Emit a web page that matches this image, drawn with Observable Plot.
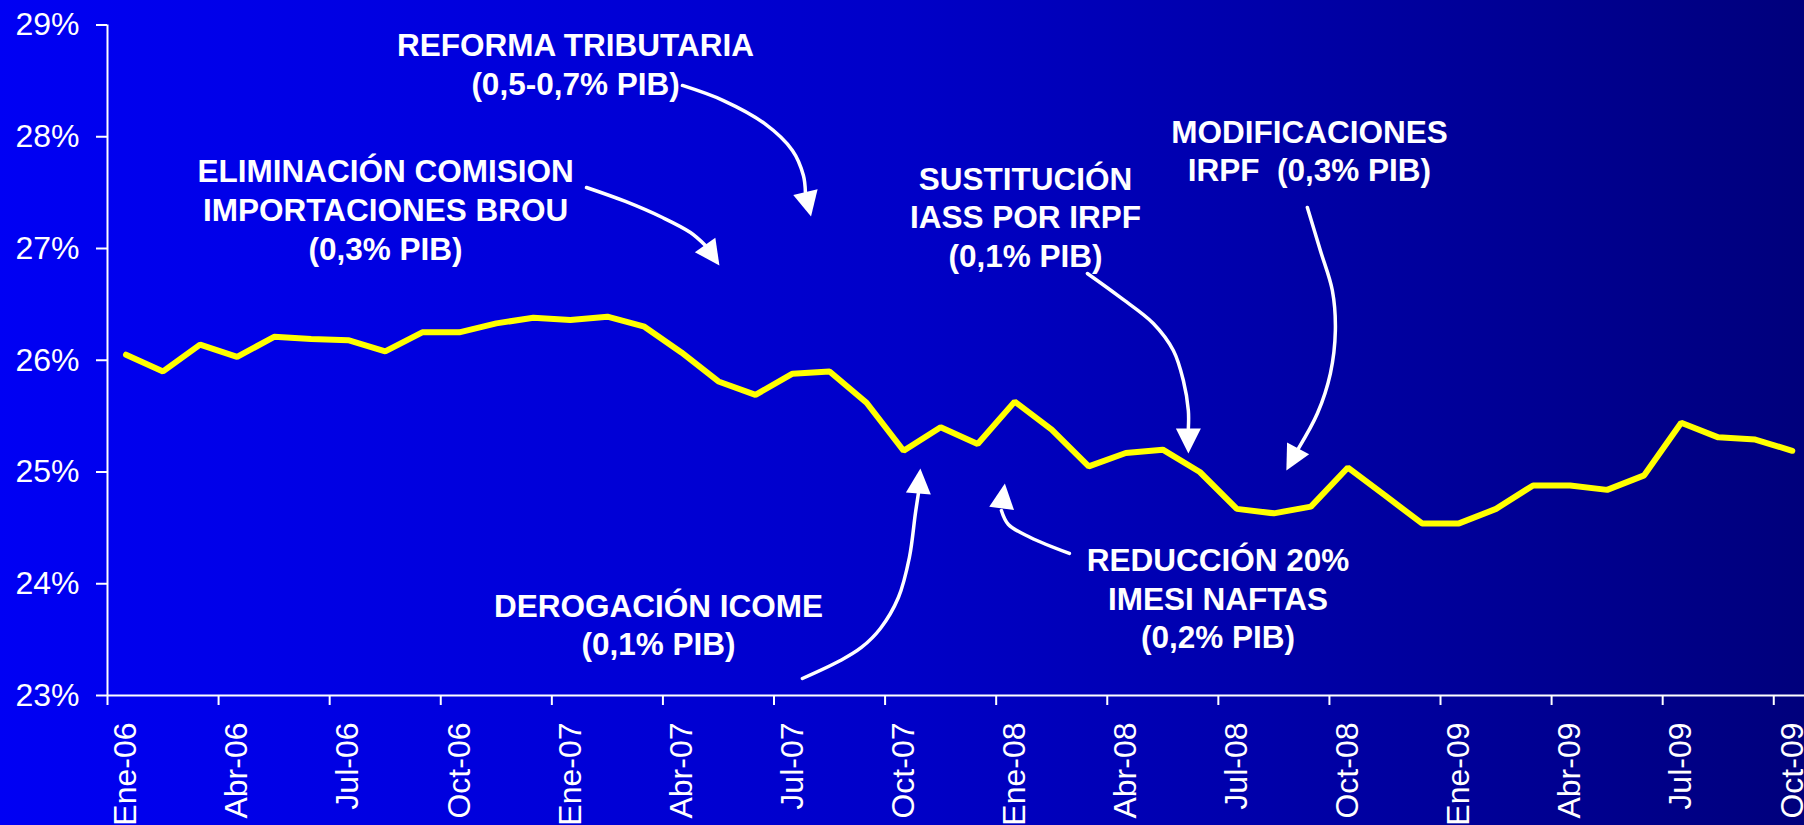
<!DOCTYPE html>
<html>
<head>
<meta charset="utf-8">
<script src="https://cdn.jsdelivr.net/npm/d3@7"></script>
<script src="https://cdn.jsdelivr.net/npm/@observablehq/plot@0.6"></script>
<style>
html, body { margin: 0; padding: 0; overflow: hidden; background: #000080; }
#chart svg text { white-space: pre; }
</style>
</head>
<body>
<div id="chart"></div>
<script>
// Months (categories)
const months = [
  "Ene-06","Feb-06","Mar-06","Abr-06","May-06","Jun-06","Jul-06","Ago-06","Sep-06","Oct-06","Nov-06","Dic-06",
  "Ene-07","Feb-07","Mar-07","Abr-07","May-07","Jun-07","Jul-07","Ago-07","Sep-07","Oct-07","Nov-07","Dic-07",
  "Ene-08","Feb-08","Mar-08","Abr-08","May-08","Jun-08","Jul-08","Ago-08","Sep-08","Oct-08","Nov-08","Dic-08",
  "Ene-09","Feb-09","Mar-09","Abr-09","May-09","Jun-09","Jul-09","Ago-09","Sep-09","Oct-09"
];
// Series values (% PIB)
const values = [
  26.05, 25.90, 26.14, 26.03, 26.21, 26.19, 26.18, 26.08, 26.25, 26.25, 26.33, 26.38,
  26.36, 26.39, 26.30, 26.07, 25.81, 25.69, 25.88, 25.90, 25.62, 25.19, 25.40, 25.25,
  25.63, 25.38, 25.05, 25.17, 25.20, 25.00, 24.67, 24.63, 24.69, 25.04, 24.79, 24.54,
  24.54, 24.67, 24.88, 24.88, 24.84, 24.97, 25.44, 25.31, 25.29, 25.19
];
// Y tick values
const yTicks = [23, 24, 25, 26, 27, 28, 29];
// X tick labels (every quarter)
const xTickIdx = months.map((m, i) => i).filter(i => i % 3 === 0);

// Annotations (month index, % value of last text baseline)
const notes = [
  {text: "REFORMA TRIBUTARIA\n(0,5-0,7% PIB)", x: 12.64, y: 28.375},
  {text: "ELIMINACIÓN COMISION\nIMPORTACIONES BROU\n(0,3% PIB)", x: 7.51, y: 26.90},
  {text: "SUSTITUCIÓN\nIASS POR IRPF\n(0,1% PIB)", x: 24.79, y: 26.833},
  {text: "MODIFICACIONES\nIRPF  (0,3% PIB)", x: 32.46, y: 27.60},
  {text: "DEROGACIÓN ICOME\n(0,1% PIB)", x: 14.88, y: 23.358},
  {text: "REDUCCIÓN 20%\nIMESI NAFTAS\n(0,2% PIB)", x: 29.99, y: 23.421}
];

// Arrow shafts (month index, %) and heads
const arrowShafts = [
  {id: "A", pts: [[12.935,27.546],[13.988,27.421],[14.987,27.277],[15.743,27.143],[16.148,27.027]]},
  {id: "B", pts: [[15.527,28.459],[16.634,28.324],[17.741,28.119],[18.497,27.877],[18.794,27.653],[18.848,27.501]]},
  {id: "C", pts: [[26.463,26.776],[27.354,26.562],[28.245,26.329],[28.785,26.087],[29.055,25.819],[29.190,25.550],[29.190,25.389]]},
  {id: "D", pts: [[32.404,27.367],[32.755,26.982],[33.079,26.624],[33.160,26.266],[33.025,25.881],[32.674,25.523],[32.161,25.210]]},
  {id: "E", pts: [[18.767,23.152],[19.793,23.313],[20.360,23.430],[20.873,23.600],[21.359,23.877],[21.656,24.235],[21.818,24.629],[21.899,24.808]]},
  {id: "F", pts: [[25.977,24.271],[24.924,24.414],[24.330,24.530],[24.141,24.655]]}
];
const arrowHeads = [
  {x: 16.526, y: 26.848, angle: 145},
  {x: 19.000, y: 27.286, angle: 167},
  {x: 29.190, y: 25.166, angle: 180},
  {x: 31.837, y: 25.013, angle: 208},
  {x: 21.953, y: 25.031, angle: 4.6},
  {x: 24.235, y: 24.897, angle: 7.5}
];

const series = values.map((v, i) => ({i, v}));
const shaftPts = arrowShafts.flatMap(a => a.pts.map(([x, y]) => ({id: a.id, x, y})));

const headSymbol = {
  draw(ctx) {
    ctx.moveTo(0, 0);
    ctx.lineTo(-12.5, 25);
    ctx.lineTo(12.5, 25);
    ctx.closePath();
  }
};

const chart = Plot.plot({
  width: 1804,
  height: 825,
  marginTop: 24.5,
  marginBottom: 130,
  marginLeft: 107,
  marginRight: 0,
  style: {
    background: "linear-gradient(to right, #0000F4 0%, #0000C8 50%, #00007C 100%)",
    fontFamily: "'Liberation Sans', Arial, sans-serif",
    color: "white",
    overflow: "visible"
  },
  x: {type: "linear", domain: [0, 46], range: [107, 1810.3]},
  y: {type: "linear", domain: [23, 29]},
  marks: [
    Plot.ruleX([0], {stroke: "white", strokeWidth: 2}),
    Plot.ruleY([23], {stroke: "white", strokeWidth: 2}),
    Plot.axisY({
      ticks: yTicks, tickFormat: d => d + "%", tickSize: 11, tickPadding: 17,
      fontSize: 32, color: "white", strokeWidth: 2, label: null
    }),
    Plot.axisX({
      ticks: xTickIdx, tickFormat: () => "", tickSize: 10,
      color: "white", strokeWidth: 2, label: null
    }),
    Plot.text(xTickIdx, {
      x: i => i + 0.5, text: i => months[i], frameAnchor: "bottom",
      rotate: -90, textAnchor: "end", lineAnchor: "middle", dy: 27,
      fontSize: 32, fill: "white"
    }),
    Plot.line(series, {x: d => d.i + 0.5, y: "v", stroke: "#FFFF00", strokeWidth: 6, strokeLinejoin: "miter"}),
    Plot.line(shaftPts, {x: "x", y: "y", z: "id", curve: "catmull-rom", stroke: "white", strokeWidth: 3.5}),
    Plot.dot(arrowHeads, {x: "x", y: "y", rotate: "angle", symbol: headSymbol, fill: "white", stroke: null, r: 10}),
    Plot.text(notes, {
      x: "x", y: "y", text: "text", textAnchor: "middle", lineAnchor: "bottom",
      fontSize: 31.5, fontWeight: "bold", lineHeight: 1.23, fill: "white"
    })
  ]
});
document.getElementById("chart").appendChild(chart);
</script>
</body>
</html>
